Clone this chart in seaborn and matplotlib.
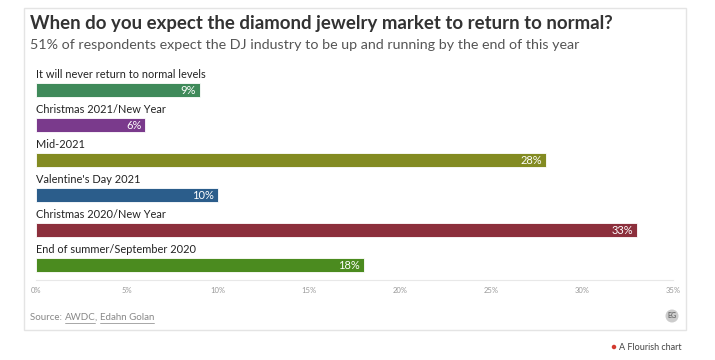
import pandas as pd
import matplotlib.pyplot as plt
import seaborn as sns
from matplotlib.patches import Rectangle, Ellipse

# data
categories = ["It will never return to normal levels", "Christmas 2021/New Year", "Mid-2021",
              "Valentine's Day 2021", "Christmas 2020/New Year", "End of summer/September 2020"]
values = [9, 6, 28, 10, 33, 18]
colors = ["#3f8a5a", "#7a3a8c", "#838b22", "#2b5d8b", "#8c2f3c", "#4b8b1f"]
ticks = [0, 5, 10, 15, 20, 25, 30, 35]

W, H = 715, 360
sns.set_style("white")
plt.rcParams["font.family"] = ["Lato", "DejaVu Sans"]

fig = plt.figure(figsize=(W / 100, H / 100), dpi=100)


def px(x, y):
    # pixel coords (top-left origin) -> figure fraction
    return x / W, 1 - y / H


# card border
fig.patches.append(Rectangle(px(24, 330), (686 - 24) / W, (330 - 8) / H, transform=fig.transFigure,
                             fill=False, edgecolor="#e4e4e4", linewidth=1))

# axes area: x 36..673 px, y 62..280 px
ax = fig.add_axes([36 / W, 1 - 280 / H, (673 - 36) / W, (280 - 62) / H])
df = pd.DataFrame({"cat": categories, "val": values})
sns.barplot(data=df, x="val", y="cat", hue="cat", palette=colors, orient="h", saturation=1,
            width=0.4, legend=False, ax=ax, edgecolor="white", linewidth=0.6)
ax.set_xlim(0, 35)
ax.set_ylim(5.43, -0.8)
ax.set_xlabel("")
ax.set_ylabel("")
ax.set_yticks([])
ax.set_xticks(ticks)
ax.set_xticklabels([f"{t}%" for t in ticks], fontsize=5.5, color="#999999")
ax.tick_params(axis="x", length=3, color="#e0e0e0", pad=2, width=0.8)
for s in ["top", "right", "left"]:
    ax.spines[s].set_visible(False)
ax.spines["bottom"].set_color("#e8e8e8")
ax.spines["bottom"].set_linewidth(0.8)

for i, (c, v) in enumerate(zip(categories, values)):
    ax.text(0, i - 0.43, c, fontsize=7.9, color="#222222", ha="left", va="center")
    ax.text(v - 0.2, i + 0.02, f"{v}%", fontsize=8, color="white", ha="right", va="center")

# title and subtitle
fig.text(*px(30, 23), "When do you expect the diamond jewelry market to return to normal?",
         fontsize=13.4, fontweight="bold", color="#333333", va="center", ha="left")
fig.text(*px(30, 45), "51% of respondents expect the DJ industry to be up and running by the end of this year",
         fontsize=10.3, color="#555555", va="center", ha="left")

# source line with underlined links
t0 = fig.text(*px(30, 318), "Source: ", fontsize=7, color="#888888", va="center", ha="left")
fig.canvas.draw()
r = fig.canvas.get_renderer()
x = t0.get_window_extent(r).x1
for part, link in [("AWDC", True), (", ", False), ("Edahn Golan", True)]:
    t = fig.text(x / W, 1 - 318 / H, part, fontsize=7, color="#888888", va="center", ha="left")
    bb = t.get_window_extent(r)
    if link:
        fig.add_artist(plt.Line2D([bb.x0 / W, bb.x1 / W], [(bb.y0 - 0.5) / H] * 2,
                                  color="#999999", linewidth=0.6))
    x = bb.x1

# EG badge
fig.patches.append(Ellipse(px(672, 316), 13 / W, 13 / H, transform=fig.transFigure,
                           facecolor="#cccccc", edgecolor="none"))
fig.text(*px(672, 316), "EG", fontsize=5, color="#555555", ha="center", va="center")

# flourish credit
fig.patches.append(Ellipse(px(614, 347), 4.5 / W, 4.5 / H, transform=fig.transFigure,
                           facecolor="#d33a2f", edgecolor="none"))
fig.text(*px(619, 347), "A Flourish chart", fontsize=6.5, color="#444444", ha="left", va="center")

fig.savefig("out.png", dpi=100, facecolor="white")
